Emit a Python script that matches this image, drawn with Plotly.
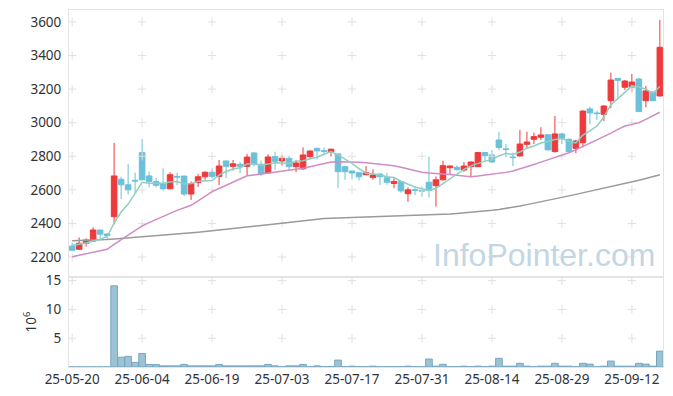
import plotly.graph_objects as go

dates = [
    "25-05-20", "25-05-21", "25-05-22", "25-05-23", "25-05-26", "25-05-27", "25-05-28", "25-05-29", "25-05-30",
    "25-06-02", "25-06-04", "25-06-05", "25-06-09", "25-06-10", "25-06-11", "25-06-12", "25-06-13", "25-06-16",
    "25-06-17", "25-06-18", "25-06-19", "25-06-20", "25-06-23", "25-06-24", "25-06-25", "25-06-26", "25-06-27",
    "25-06-30", "25-07-01", "25-07-02", "25-07-03", "25-07-04", "25-07-07", "25-07-08", "25-07-09", "25-07-10",
    "25-07-11", "25-07-14", "25-07-15", "25-07-16", "25-07-17", "25-07-18", "25-07-21", "25-07-22", "25-07-23",
    "25-07-24", "25-07-25", "25-07-28", "25-07-29", "25-07-30", "25-07-31", "25-08-01", "25-08-04", "25-08-05",
    "25-08-06", "25-08-07", "25-08-08", "25-08-11", "25-08-12", "25-08-13", "25-08-14", "25-08-18", "25-08-19",
    "25-08-20", "25-08-21", "25-08-22", "25-08-25", "25-08-26", "25-08-27", "25-08-28", "25-08-29", "25-09-01",
    "25-09-02", "25-09-03", "25-09-04", "25-09-05", "25-09-08", "25-09-09", "25-09-10", "25-09-11", "25-09-12",
    "25-09-15", "25-09-16", "25-09-17", "25-09-18",
]

open_ = [2265, 2246, 2282, 2295, 2361, 2337, 2440, 2663, 2630, 2657,
         2822, 2683, 2649, 2636, 2606, 2680, 2682, 2575, 2643, 2678,
         2705, 2680, 2772, 2740, 2752, 2740, 2820, 2752, 2700, 2798,
         2772, 2788, 2738, 2725, 2798, 2847, 2833, 2828, 2814, 2738,
         2712, 2702, 2690, 2673, 2694, 2672, 2638, 2649, 2577, 2601,
         2597, 2645, 2625, 2660, 2732, 2734, 2718, 2738, 2738, 2822,
         2808, 2897, 2844, 2796, 2802, 2871, 2901, 2913, 2928, 2828,
         2933, 2901, 2847, 2881, 3082, 3058, 3050, 3131, 3264, 3211,
         3212, 3260, 3131, 3183, 3159]
high = [2285, 2317, 2311, 2377, 2362, 2342, 2880, 2678, 2754, 2703,
        2903, 2708, 2672, 2728, 2705, 2703, 2685, 2650, 2694, 2710,
        2728, 2778, 2774, 2778, 2766, 2814, 2822, 2774, 2812, 2827,
        2808, 2802, 2778, 2853, 2835, 2852, 2853, 2845, 2816, 2740,
        2714, 2705, 2742, 2722, 2700, 2702, 2670, 2651, 2615, 2619,
        2619, 2798, 2680, 2774, 2746, 2746, 2766, 2768, 2826, 2825,
        2837, 2946, 2873, 2822, 2957, 2946, 2941, 2973, 2930, 3040,
        2940, 2906, 2897, 3074, 3095, 3070, 3105, 3298, 3266, 3254,
        3290, 3266, 3219, 3187, 3612]
low = [2235, 2242, 2262, 2292, 2300, 2302, 2395, 2545, 2572, 2583,
       2658, 2615, 2615, 2595, 2604, 2628, 2563, 2540, 2617, 2660,
       2667, 2628, 2670, 2715, 2700, 2688, 2740, 2683, 2697, 2718,
       2745, 2714, 2705, 2718, 2782, 2780, 2806, 2798, 2610, 2660,
       2663, 2655, 2688, 2660, 2629, 2630, 2610, 2583, 2530, 2570,
       2560, 2555, 2500, 2655, 2690, 2714, 2708, 2675, 2736, 2768,
       2760, 2837, 2794, 2742, 2798, 2847, 2873, 2897, 2836, 2821,
       2873, 2825, 2818, 2853, 2990, 3016, 3010, 3086, 3150, 3195,
       3185, 3064, 3092, 3130, 3155]
close = [2240, 2282, 2301, 2361, 2336, 2328, 2683, 2630, 2600, 2653,
         2660, 2650, 2627, 2606, 2690, 2676, 2575, 2637, 2678, 2705,
         2680, 2742, 2740, 2755, 2740, 2795, 2752, 2695, 2796, 2770,
         2788, 2738, 2760, 2808, 2831, 2832, 2829, 2842, 2708, 2708,
         2700, 2678, 2702, 2688, 2678, 2645, 2650, 2594, 2600, 2597,
         2593, 2597, 2660, 2744, 2742, 2720, 2742, 2766, 2822, 2803,
         2766, 2852, 2840, 2792, 2873, 2885, 2917, 2927, 2838, 2933,
         2908, 2828, 2891, 3069, 3058, 3054, 3099, 3254, 3252, 3248,
         3242, 3066, 3189, 3131, 3449]

ma5 = [2268, 2275, 2283, 2295, 2304, 2322, 2402, 2468, 2515, 2579,
       2645, 2639, 2638, 2639, 2647, 2650, 2635, 2637, 2651, 2654,
       2655, 2688, 2709, 2724, 2731, 2754, 2756, 2747, 2756, 2762,
       2760, 2757, 2770, 2773, 2785, 2794, 2812, 2828, 2808, 2784,
       2757, 2727, 2699, 2695, 2689, 2678, 2673, 2651, 2633, 2617,
       2607, 2596, 2609, 2638, 2667, 2693, 2722, 2743, 2758, 2771,
       2780, 2802, 2817, 2811, 2825, 2848, 2861, 2879, 2888, 2900,
       2905, 2887, 2880, 2926, 2951, 2980, 3034, 3107, 3143, 3181,
       3219, 3212, 3199, 3175, 3215]
ma20 = [2202, 2210, 2219, 2228, 2237, 2246, 2275, 2303, 2330, 2356,
        2385, 2405, 2422, 2440, 2460, 2478, 2492, 2508, 2535, 2562,
        2589, 2608, 2628, 2648, 2666, 2684, 2689, 2694, 2699, 2705,
        2710, 2716, 2722, 2728, 2738, 2748, 2760, 2766, 2768, 2768,
        2768, 2765, 2762, 2758, 2755, 2750, 2744, 2735, 2724, 2712,
        2705, 2700, 2699, 2695, 2691, 2688, 2683, 2678, 2682, 2687,
        2692, 2698, 2704, 2712, 2724, 2738, 2751, 2765, 2778, 2792,
        2806, 2821, 2839, 2857, 2878, 2898, 2917, 2938, 2960, 2980,
        2990, 3000, 3020, 3040, 3062]
ma60 = [2297, 2298, 2300, 2301, 2303, 2305, 2308, 2311, 2315, 2318,
        2321, 2324, 2327, 2330, 2333, 2336, 2340, 2344, 2348, 2352,
        2356, 2360, 2364, 2368, 2372, 2377, 2382, 2387, 2392, 2397,
        2402, 2407, 2412, 2417, 2422, 2426, 2429, 2431, 2433, 2435,
        2436, 2438, 2440, 2441, 2443, 2444, 2445, 2446, 2447, 2448,
        2450, 2451, 2452, 2454, 2456, 2459, 2462, 2466, 2470, 2474,
        2478, 2483, 2489, 2496, 2504, 2512, 2520, 2528, 2537, 2546,
        2555, 2564, 2573, 2582, 2591, 2600, 2609, 2618, 2627, 2636,
        2646, 2657, 2668, 2679, 2690]

volume_m = [0.02, 0.02, 0.02, 0.02, 0.02, 0.02, 14.1, 1.7, 1.85, 0.8,
            2.35, 0.45, 0.42, 0.2, 0.2, 0.2, 0.45, 0.2, 0.2, 0.2,
            0.2, 0.45, 0.2, 0.2, 0.2, 0.2, 0.2, 0.2, 0.45, 0.2,
            0.05, 0.2, 0.2, 0.45, 0.05, 0.2, 0.05, 0.1, 1.2, 0.05,
            0.15, 0.05, 0.05, 0.15, 0.05, 0.05, 0.05, 0.05, 0.15, 0.05,
            0.05, 1.38, 0.15, 0.47, 0.05, 0.05, 0.15, 0.05, 0.15, 0.05,
            0.15, 1.5, 0.15, 0.15, 0.64, 0.15, 0.05, 0.15, 0.15, 0.64,
            0.15, 0.15, 0.05, 0.64, 0.5, 0.05, 0.15, 1.03, 0.15, 0.15,
            0.15, 0.64, 0.5, 0.15, 2.76]

x_tick_labels = dates[::10]
price_ticks = [2200, 2400, 2600, 2800, 3000, 3200, 3400, 3600]
volume_ticks = [5, 10, 15]

RED = "#ee3a3c"
BLUE = "#6bc0da"
FONT = "Noto Sans"
TICK_COLOR = "#333333"
FRAME = "#e4e4e4"

fig = go.Figure()

# grid crosses at tick intersections
gx, gy = [], []
for xv in x_tick_labels:
    for yv in price_ticks:
        gx.append(xv)
        gy.append(yv)
fig.add_trace(go.Scatter(x=gx, y=gy, mode="markers", xaxis="x", yaxis="y",
                         marker=dict(symbol="cross-thin", size=6, line=dict(width=1, color="#e0e0e0")),
                         hoverinfo="skip", showlegend=False))
vx, vy = [], []
for xv in x_tick_labels:
    for yv in volume_ticks:
        vx.append(xv)
        vy.append(yv)
fig.add_trace(go.Scatter(x=vx, y=vy, mode="markers", xaxis="x2", yaxis="y2",
                         marker=dict(symbol="cross-thin", size=6, line=dict(width=1, color="#e0e0e0")),
                         hoverinfo="skip", showlegend=False))

fig.add_trace(go.Candlestick(
    x=dates, open=open_, high=high, low=low, close=close,
    xaxis="x", yaxis="y",
    increasing=dict(line=dict(color=RED, width=1), fillcolor=RED),
    decreasing=dict(line=dict(color=BLUE, width=1), fillcolor=BLUE),
    whiskerwidth=0, showlegend=False,
))

fig.add_trace(go.Scatter(x=dates, y=ma60, mode="lines", xaxis="x", yaxis="y",
                         line=dict(color="#9a9a9a", width=1.5), showlegend=False))
fig.add_trace(go.Scatter(x=dates, y=ma20, mode="lines", xaxis="x", yaxis="y",
                         line=dict(color="#cf8cc6", width=1.5), showlegend=False))
fig.add_trace(go.Scatter(x=dates, y=ma5, mode="lines", xaxis="x", yaxis="y",
                         line=dict(color="#8fcfc0", width=1.5), showlegend=False))

fig.add_trace(go.Bar(x=dates, y=volume_m, xaxis="x2", yaxis="y2",
                     marker=dict(color="#9cc2d4", line=dict(color="#76a7c0", width=1)),
                     showlegend=False))

split = 90 / 357

# the page body adds an 8px offset, so the figure is sized to fit the window
fig.update_layout(
    width=665, height=388,
    margin=dict(l=61, r=10, t=2, b=29, autoexpand=False),
    paper_bgcolor="white", plot_bgcolor="white",
    font=dict(family=FONT, size=13, color=TICK_COLOR),
    bargap=0.05, boxgap=0.2, boxgroupgap=0,
    xaxis=dict(type="category", categoryorder="array", categoryarray=dates,
               domain=[0, 1], anchor="y", range=[-0.45, 84.45],
               showticklabels=False, showgrid=False, zeroline=False,
               showline=True, linecolor=FRAME, linewidth=1, mirror=True,
               rangeslider=dict(visible=False)),
    yaxis=dict(domain=[split, 1], anchor="x", range=[2081, 3671],
               tickvals=price_ticks, showgrid=False, zeroline=False,
               showline=True, linecolor=FRAME, linewidth=1, mirror=True,
               ticks="outside", ticklen=4, tickcolor="rgba(0,0,0,0)",
               tickfont=dict(family=FONT, size=13.5, color=TICK_COLOR)),
    xaxis2=dict(type="category", categoryorder="array", categoryarray=dates,
                domain=[0, 1], anchor="y2", matches="x",
                tickvals=x_tick_labels, ticktext=x_tick_labels,
                showgrid=False, zeroline=False,
                showline=True, linecolor=FRAME, linewidth=1, mirror=True,
                ticks="", ticklen=0,
                tickfont=dict(family=FONT, size=13.5, color=TICK_COLOR)),
    yaxis2=dict(domain=[0, split], anchor="x2", range=[0, 15.63],
                tickvals=volume_ticks, showgrid=False, zeroline=False,
                showline=True, linecolor=FRAME, linewidth=1, mirror=True,
                ticks="outside", ticklen=4, tickcolor="rgba(0,0,0,0)",
                tickfont=dict(family=FONT, size=13.5, color=TICK_COLOR),
                title=dict(text="10<sup>6</sup>", standoff=6,
                           font=dict(family=FONT, size=13.5, color=TICK_COLOR))),
    annotations=[dict(text="InfoPointer.com", xref="paper", yref="paper",
                      x=0.8, y=0.314, xanchor="center", yanchor="middle",
                      showarrow=False,
                      font=dict(family="Liberation Sans", size=32, color="#c2d6e3"))],
)

fig.write_html("out.html")
